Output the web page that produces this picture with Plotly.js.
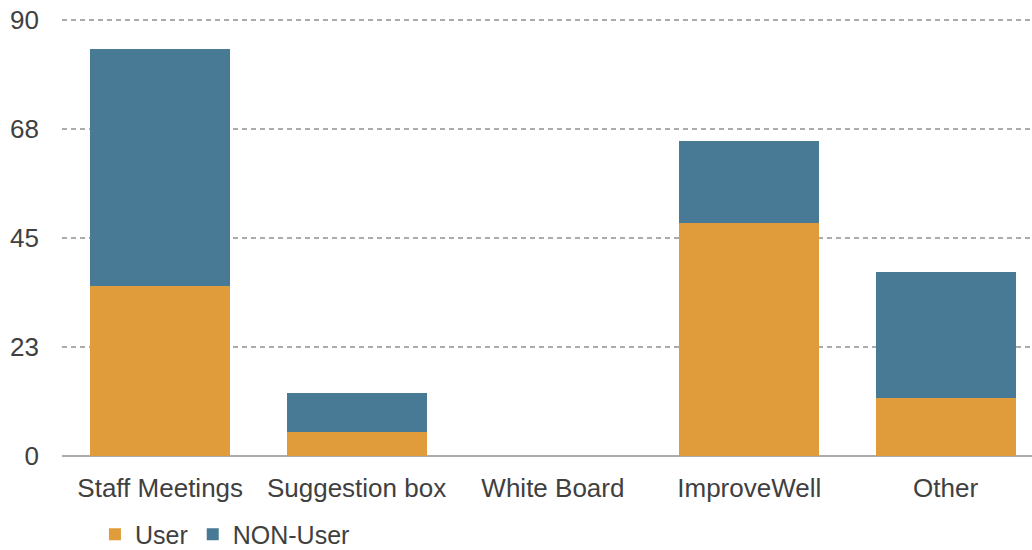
<!DOCTYPE html>
<html>
<head>
<meta charset="utf-8">
<script src="https://cdn.plot.ly/plotly-3.0.1.min.js"></script>
<style>html,body{margin:0;padding:0;background:#fff;}#chart{width:1032px;height:550px;}</style>
</head>
<body>
<div id="chart"></div>
<script>
var categories = ["Staff Meetings", "Suggestion box", "White Board", "ImproveWell", "Other"];
var userValues = [35, 5, 0, 48, 12];
var nonUserValues = [49, 8, 0, 17, 26];
var yTickVals = [0, 22.5, 45, 67.5, 90];
var yTickText = ["0", "23", "45", "68", "90"];

var font = {family: "Liberation Sans, Arial, sans-serif", size: 26, color: "#404040"};
var legendFont = {family: "Liberation Sans, Arial, sans-serif", size: 25, color: "#404040"};

var traces = [
  {type: "bar", name: "User", x: categories, y: userValues, marker: {color: "#E09C3A"}},
  {type: "bar", name: "NON-User", x: categories, y: nonUserValues, marker: {color: "#487A96"}}
];

var layout = {
  width: 1032, height: 550,
  barmode: "stack",
  bargap: 0.287,
  margin: {l: 62, r: 0, t: 15, b: 94},
  paper_bgcolor: "#fff", plot_bgcolor: "#fff",
  font: font,
  showlegend: true,
  legend: {orientation: "h", traceorder: "normal", xref: "container", yref: "container", x: 0.092, xanchor: "left", y: 0.028, yanchor: "middle", font: legendFont, bgcolor: "rgba(0,0,0,0)", borderwidth: 0, tracegroupgap: 0},
  xaxis: {range: [-0.5, 4.44], showgrid: false, showline: false, zeroline: false, ticks: "", tickfont: font, ticklabelstandoff: 14, fixedrange: true},
  yaxis: {range: [0, 91], tickvals: yTickVals, ticktext: yTickText, showgrid: true, gridcolor: "#ababab", griddash: "5px,4px", gridwidth: 2,
          zeroline: true, zerolinecolor: "#ababab", zerolinewidth: 2, showline: false, ticks: "", tickfont: font, ticklabelstandoff: 22, fixedrange: true}
};

Plotly.newPlot("chart", traces, layout, {displayModeBar: false, staticPlot: true});
</script>
</body>
</html>
